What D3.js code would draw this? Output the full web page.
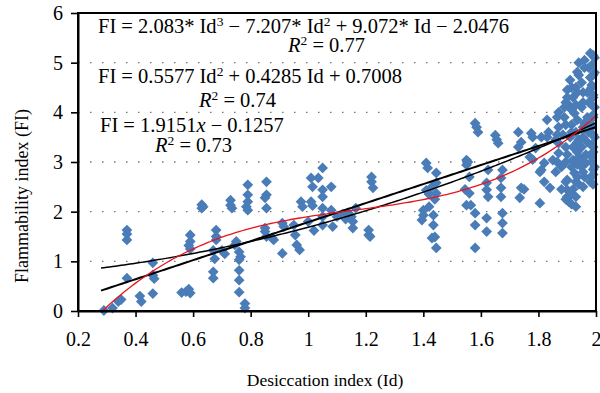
<!DOCTYPE html>
<html><head><meta charset="utf-8">
<script src="https://cdn.jsdelivr.net/npm/d3@7"></script>
<style>body{margin:0;background:#fff} text{font-family:"Liberation Serif","Times New Roman",serif;fill:#000}</style>
</head><body><svg id="c" width="600" height="393"></svg>
<script>
const xTicks = [0.2, 0.4, 0.6, 0.8, 1, 1.2, 1.4, 1.6, 1.8, 2];
const yTicks = [0, 1, 2, 3, 4, 5, 6];
const gridValues = [1, 2, 3, 4, 5];
const idValues = [0.29,0.32,0.34,0.35,0.37,0.37,0.37,0.37,0.415,0.42,0.46,0.46,0.465,0.46,0.56,0.575,0.585,0.59,0.59,0.59,0.585,0.59,0.63,0.63,0.635,0.68,0.68,0.68,0.67,0.675,0.67,0.67,0.70,0.71,0.73,0.73,0.735,0.745,0.75,0.76,0.765,0.76,0.76,0.76,0.76,0.78,0.78,0.79,0.79,0.79,0.785,0.79,0.855,0.855,0.85,0.855,0.85,0.85,0.855,0.88,0.875,0.91,0.915,0.91,0.95,0.955,0.96,0.97,0.975,0.98,1.01,1.015,1.01,1.015,1.035,1.05,1.05,1.05,1.05,1.05,1.05,1.08,1.08,1.085,1.0,1.02,1.1,1.12,1.14,1.15,1.155,1.155,1.165,1.13,1.21,1.21,1.215,1.22,1.22,1.225,1.4,1.4,1.395,1.41,1.415,1.41,1.42,1.445,1.445,1.445,1.44,1.435,1.435,1.44,1.43,1.445,1.43,1.42,1.55,1.55,1.55,1.545,1.58,1.585,1.59,1.555,1.56,1.56,1.565,1.58,1.58,1.58,1.62,1.62,1.625,1.62,1.62,1.625,1.65,1.655,1.66,1.675,1.67,1.67,1.67,1.675,1.675,1.675,1.73,1.73,1.74,1.74,1.75,1.735,1.775,1.78,1.77,1.78,1.805,1.805,1.81,1.79,1.82,1.81,1.85,1.84,1.9,1.9,1.9,1.905,1.925,1.92,1.96,1.965,1.87,1.87,1.83,1.95,1.94,1.935,1.96,1.98,1.94,1.9,1.9,1.905,1.87,1.83,1.87,1.835,1.89,1.925,1.95,1.96,1.91,1.975,1.98,1.985,1.99,1.995,1.99,1.985,1.995,1.99,1.985,1.995,1.99,1.98,1.995,1.995,1.97,1.975,1.97,1.975,1.97,1.965,1.955,1.95,1.96,1.93,1.92,1.93,1.915,1.93,1.94,1.91,1.92,1.9,1.94,1.95,1.93,1.92,1.93,1.94,1.885,1.88,1.86,1.86,1.89,1.88,1.82,
  1.99,1.985,1.99,1.985,1.99,1.985,1.99,1.985,1.99,1.985,1.99,1.985,1.99,1.985,1.99,1.955,1.955,1.955,1.955,1.955,1.955,1.935,1.935,1.935,1.935,1.935,1.935,1.915,1.915,1.915,1.915,1.915,1.915,1.895,1.895,1.895,1.895,1.895,1.895,1.865,1.865,1.865,1.93];
const fiValues = [0.01,0.06,0.19,0.23,1.63,1.55,1.43,0.66,0.3,0.19,0.97,0.72,0.65,0.35,0.37,0.39,0.44,0.36,1.53,1.4,1.32,1.25,2.14,2.07,2.1,1.63,1.5,1.43,1.22,1.05,0.79,0.66,1.22,1.15,2.23,2.13,2.07,1.33,1.4,1.19,1.09,1.03,0.82,0.62,0.38,0.15,0.06,2.54,2.34,2.2,2.1,2.03,2.6,2.34,2.28,2.07,1.67,1.6,1.5,1.43,1.47,1.77,1.7,1.16,1.73,1.53,1.33,1.23,2.2,2.1,2.68,2.5,2.2,2.12,2.68,2.88,2.44,2.3,2.07,1.9,1.73,2.5,2.03,1.7,1.8,1.62,1.9,1.95,1.97,1.9,1.8,1.67,2.07,1.85,1.63,1.53,1.5,2.7,2.6,2.48,2.03,1.93,1.83,2.98,2.88,2.43,2.35,2.78,2.58,2.37,2.25,1.93,1.73,1.49,1.47,1.27,2.5,2.1,3.04,2.94,2.13,2.45,3.78,3.7,3.6,3.0,2.7,2.37,2.13,1.97,1.73,1.27,1.87,1.6,2.84,2.58,2.44,2.3,3.54,3.45,3.38,2.84,2.68,2.48,2.3,1.97,1.77,1.57,3.6,3.3,3.4,2.48,2.45,2.28,3.58,3.5,3.1,3.05,2.8,2.17,3.5,3.28,2.98,2.84,3.04,2.48,2.64,2.44,2.3,2.2,2.78,3.04,2.7,2.98,3.18,3.38,3.5,3.3,5.0,4.81,5.05,5.19,4.75,4.45,4.3,4.15,4.0,3.85,3.7,3.6,3.9,3.98,4.1,3.78,4.65,4.9,4.7,4.5,4.3,4.1,3.9,3.7,3.5,3.3,3.1,2.9,2.75,2.6,4.8,5.1,4.4,4.2,3.9,3.6,3.4,3.15,4.4,4.6,4.9,4.5,4.3,4.15,3.75,3.6,3.45,3.5,3.3,3.15,3.1,2.9,2.6,2.45,2.3,2.55,3.55,2.9,2.8,3.45,4.1,2.45,2.6,
  2.55,2.7,2.85,3.0,3.2,3.35,3.55,3.75,3.95,4.15,4.35,4.55,4.75,4.95,5.15,2.5,2.8,3.0,3.5,3.7,4.2,2.7,2.95,3.2,3.4,3.85,4.4,2.15,2.35,2.9,3.6,4.05,4.5,2.25,2.6,3.0,3.3,3.75,4.2,3.0,3.55,3.9,2.1];
const linCoef = [-0.1257, 1.9151];
const quadCoef = [0.7008, 0.4285, 0.5577];
const cubCoef = [-2.0476, 9.072, -7.207, 2.083];
const fitRange = [0.28, 2.0];

const svg = d3.select("#c");
const x = d3.scaleLinear().domain([0.2, 2]).range([78, 596]);
const y = d3.scaleLinear().domain([0, 6]).range([311, 13]);

// grid
svg.append("g").selectAll("line").data(gridValues).join("line")
  .attr("x1", x(0.2)).attr("x2", x(2)).attr("y1", d => y(d)).attr("y2", d => y(d))
  .attr("stroke", "#777").attr("stroke-width", 1.3).attr("stroke-dasharray", "1.5,10.5");

// points
const pts = idValues.map((v, i) => [v, fiValues[i]]);
const sym = d3.symbol().type(d3.symbolSquare).size(58);
svg.append("g").selectAll("path").data(pts).join("path")
  .attr("d", sym)
  .attr("transform", d => `translate(${x(d[0])},${y(d[1])}) rotate(45)`)
  .attr("fill", "#4a7cb8");

// fit curves
const poly = c => v => c.reduce((s, a, k) => s + a * Math.pow(v, k), 0);
const xs = d3.range(fitRange[0], fitRange[1] + 1e-9, 0.01);
const line = d3.line().x(d => x(d[0])).y(d => y(d[1]));
function drawFit(coef, color, w) {
  const f = poly(coef);
  svg.append("path").datum(xs.map(v => [v, f(v)]))
    .attr("d", line).attr("fill", "none").attr("stroke", color).attr("stroke-width", w);
}
drawFit(quadCoef, "#000", 1.5);
drawFit(linCoef, "#000", 2);
drawFit(cubCoef, "#e8141c", 1.3);

// frame
svg.append("rect").attr("x", x(0.2)).attr("y", y(6)).attr("width", x(2) - x(0.2)).attr("height", y(0) - y(6))
  .attr("fill", "none").attr("stroke", "#000").attr("stroke-width", 2);

// axes
const ax = svg.append("g").attr("transform", `translate(0,${y(0)})`)
  .call(d3.axisBottom(x).tickValues(xTicks).tickFormat(d => String(d)).tickSize(6).tickPadding(15).tickSizeOuter(0));
const ay = svg.append("g").attr("transform", `translate(${x(0.2)},0)`)
  .call(d3.axisLeft(y).tickValues(yTicks).tickFormat(d => String(d)).tickSize(7).tickPadding(8).tickSizeOuter(0));
[ax, ay].forEach(g => {
  g.select(".domain").attr("stroke", "#000").attr("stroke-width", 2);
  g.selectAll(".tick line").attr("stroke", "#000").attr("stroke-width", 1.6);
  g.selectAll(".tick text").attr("font-family", "Liberation Serif").attr("font-size", 20).attr("fill", "#000");
});

// axis titles
svg.append("text").attr("x", 325).attr("y", 386).attr("text-anchor", "middle")
  .attr("font-size", 17.5).text("Desiccation index (Id)");
svg.append("text").attr("transform", "translate(28,196) rotate(-90)").attr("text-anchor", "middle")
  .attr("font-size", 18).text("Flammability index (FI)");

// equations
function eq(xp, yp, parts) {
  const t = svg.append("text").attr("x", xp).attr("y", yp).attr("font-size", 20.5);
  parts.forEach(p => {
    const s = t.append("tspan").text(p.t);
    if (p.sup) s.attr("baseline-shift", "super").attr("font-size", 13.5);
    if (p.i) s.attr("font-style", "italic");
  });
}
eq(98, 33, [{t:"FI = 2.083* Id"},{t:"3",sup:1},{t:" − 7.207* Id"},{t:"2",sup:1},{t:" + 9.072* Id − 2.0476"}]);
eq(288, 52, [{t:"R",i:1},{t:"2",sup:1},{t:" = 0.77"}]);
eq(98, 83, [{t:"FI = 0.5577 Id"},{t:"2",sup:1},{t:" + 0.4285 Id + 0.7008"}]);
eq(199, 107, [{t:"R",i:1},{t:"2",sup:1},{t:" = 0.74"}]);
eq(100, 132, [{t:"FI = 1.9151"},{t:"x",i:1},{t:" − 0.1257"}]);
eq(155, 152, [{t:"R",i:1},{t:"2",sup:1},{t:" = 0.73"}]);
</script></body></html>
